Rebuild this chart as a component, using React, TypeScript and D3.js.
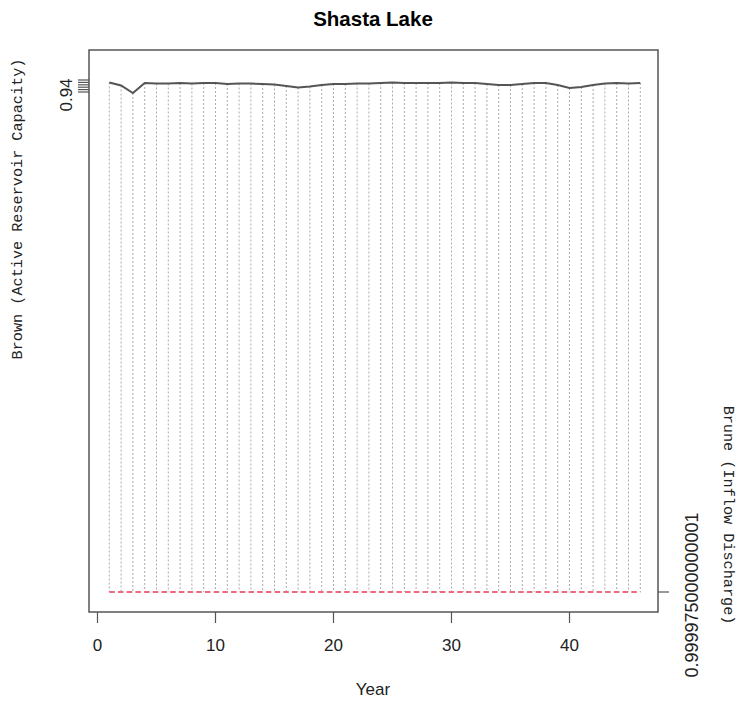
import React from "react";
import * as d3 from "d3";

const years = [1,2,3,4,5,6,7,8,9,10,11,12,13,14,15,16,17,18,19,20,21,22,23,24,25,26,27,28,29,30,31,32,33,34,35,36,37,38,39,40,41,42,43,44,45,46];
const capacity = [0.9598,0.9535,0.9379,0.9588,0.9577,0.9577,0.9588,0.9577,0.9588,0.9588,0.9567,0.9577,0.9577,0.9567,0.9556,0.9525,0.9494,0.9515,0.9546,0.9567,0.9567,0.9577,0.9577,0.9588,0.9598,0.9588,0.9588,0.9588,0.9588,0.9598,0.9588,0.9588,0.9567,0.9546,0.9546,0.9567,0.9588,0.9588,0.9546,0.9483,0.9504,0.9546,0.9577,0.9588,0.9577,0.9588];
const discharge = years.map(() => 0.999975000000001);
const xTicks = [0, 10, 20, 30, 40];
const leftTicks = [0.94, 0.945, 0.95, 0.955, 0.96, 0.965];
const leftTickLabels = ["0.94"];
const rightTicks = [0.999975000000001];
const rightTickLabels = ["0.999975000000001"];

const W = 739, H = 702;
const box = { l: 89, r: 658, t: 50, b: 612 };

export default function App() {
  const x = d3.scaleLinear().domain([-0.72, 47.5]).range([box.l, box.r]);
  const yL = d3.scaleLinear().domain([0.94, 0.965]).range([92, 80]);
  const yR = d3.scaleLinear().domain([0.999975, 0.999976]).range([592, 72]);
  const lineL = d3.line<number>().x((_, i) => x(years[i])).y((d) => yL(d));
  const lineR = d3.line<number>().x((_, i) => x(years[i])).y((d) => yR(d));
  const sans = "Liberation Sans, Arial, sans-serif";
  const mono = "Liberation Mono, Courier New, monospace";
  return (
    <svg width={W} height={H} style={{ position: "absolute", left: 0, top: 0, background: "#fff" }}>
      <rect x={0} y={0} width={W} height={H} fill="#fff" />
      <text x={373} y={26} textAnchor="middle" fontFamily={sans} fontWeight="bold" fontSize={20.5} fill="#000">Shasta Lake</text>
      {years.map((yr, i) => (
        <line key={yr} x1={x(yr)} x2={x(yr)} y1={yL(capacity[i])} y2={yR(discharge[i])} stroke="#aaaaaa" strokeWidth={1} strokeDasharray="2,2" />
      ))}
      <path d={lineL(capacity) || ""} fill="none" stroke="#555" strokeWidth={2} />
      <path d={lineR(discharge) || ""} fill="none" stroke="#ee6880" strokeWidth={1.8} strokeDasharray="5.5,3.2" />
      <rect x={box.l} y={box.t} width={box.r - box.l} height={box.b - box.t} fill="none" stroke="#555" strokeWidth={1.5} />
      {xTicks.map((t) => (
        <g key={t}>
          <line x1={x(t)} x2={x(t)} y1={box.b} y2={box.b + 11} stroke="#555" strokeWidth={1.2} />
          <text x={x(t)} y={651} textAnchor="middle" fontFamily={sans} fontSize={17} fill="#222">{t}</text>
        </g>
      ))}
      <text x={373} y={695} textAnchor="middle" fontFamily={sans} fontSize={17} fill="#222">Year</text>
      {leftTicks.map((t) => (
        <line key={t} x1={box.l - 11} x2={box.l} y1={yL(t)} y2={yL(t)} stroke="#555" strokeWidth={1.2} />
      ))}
      {leftTickLabels.map((lab, i) => (
        <text key={lab} transform={`translate(72,${yL(leftTicks[i]) + 3}) rotate(-90)`} textAnchor="middle" fontFamily={sans} fontSize={17} fill="#222">{lab}</text>
      ))}
      {rightTicks.map((t, i) => (
        <g key={t}>
          <line x1={box.r} x2={box.r + 11} y1={yR(t)} y2={yR(t)} stroke="#555" strokeWidth={1.2} />
          <text transform={`translate(698,${yR(t) + 3}) rotate(-90)`} textAnchor="middle" fontFamily={sans} fontSize={18} fill="#222">{rightTickLabels[i]}</text>
        </g>
      ))}
      <text transform="translate(22,209) rotate(-90)" textAnchor="middle" fontFamily={mono} fontSize={15.2} fill="#222">Brown (Active Reservoir Capacity)</text>
      <text transform="translate(724,515) rotate(90)" textAnchor="middle" fontFamily={mono} fontSize={15.2} fill="#222">Brune (Inflow Discharge)</text>
    </svg>
  );
}
